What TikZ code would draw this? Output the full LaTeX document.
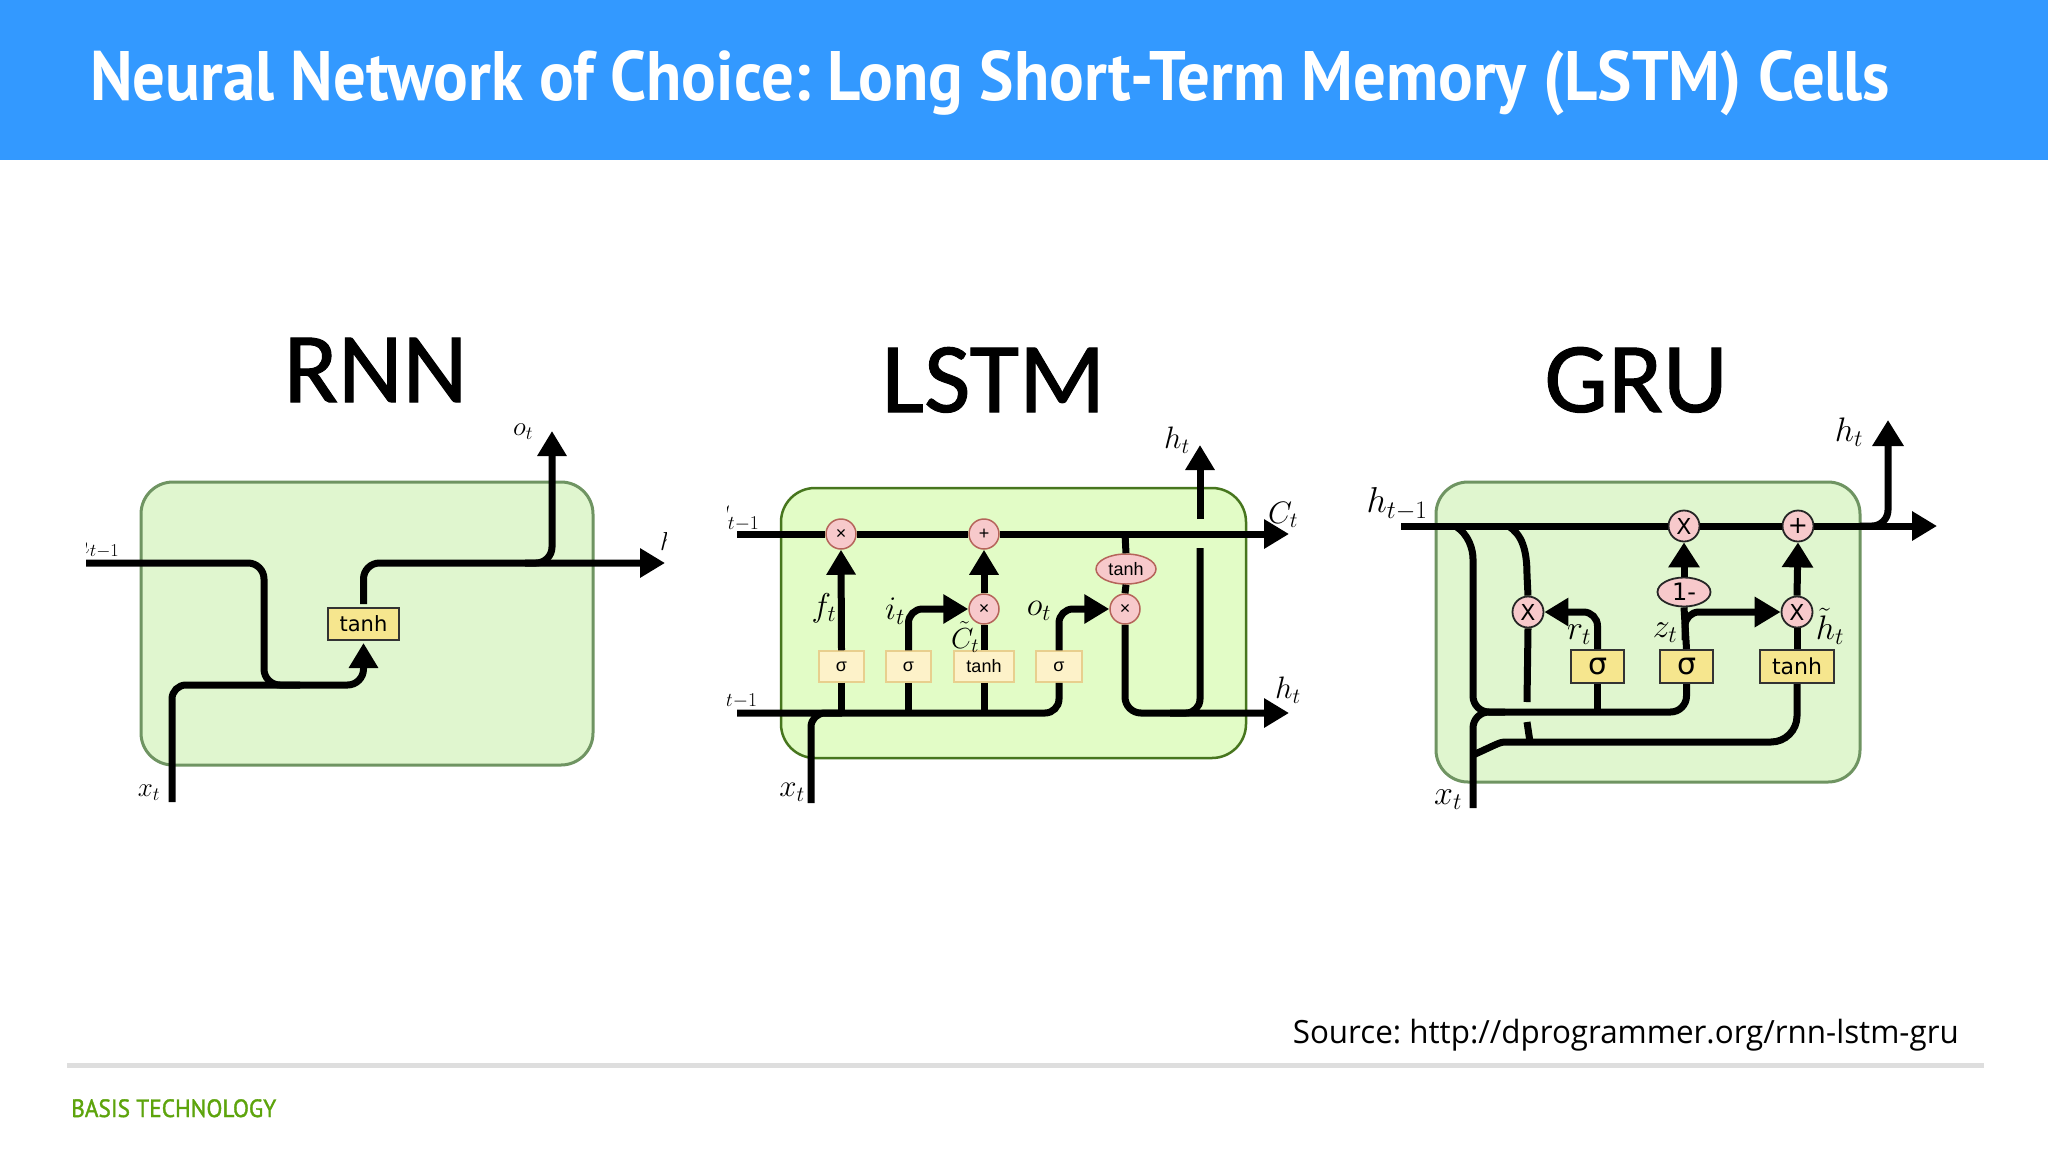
\RequirePackage{fix-cm}
\documentclass[tikz,border=0pt]{standalone}
\usepackage{fontspec}
\usetikzlibrary{arrows.meta,shapes.geometric,calc}
\newfontfamily\carl[FakeBold=1]{Carlito}
\newfontfamily\dejav{DejaVu Sans}
\newfontfamily\libs{Liberation Sans}
\newfontfamily\opens{Open Sans}
\newfontfamily\headf{PT Sans}
\newfontfamily\footf[FakeBold=1.5]{PT Sans}
\newcommand{\fs}[1]{\fontsize{#1}{#1}\selectfont}
\frenchspacing
\definecolor{hdr}{HTML}{3399FF}
\definecolor{wirec}{HTML}{000000}
\definecolor{softfill}{HTML}{E0F6CF}
\definecolor{softedge}{HTML}{6F9462}
\definecolor{lstmfill}{HTML}{E2FCC6}
\definecolor{lstmedge}{HTML}{47761E}
\definecolor{pinkf}{HTML}{F7C9CB}
\definecolor{pinke}{HTML}{B5645A}
\definecolor{yelf}{HTML}{F6E68E}
\definecolor{palef}{HTML}{FDF2C9}
\definecolor{paled}{HTML}{E8CF8E}
\definecolor{footg}{HTML}{5DA40C}
\tikzset{
  wire/.style={draw=wirec,line width=7pt},
  tipa/.style={-{Triangle[length=25pt,width=28pt]}},
  cellsoft/.style={draw=softedge,fill=softfill,line width=3pt,rounded corners=32pt},
  celllstm/.style={draw=lstmedge,fill=lstmfill,line width=2.5pt,rounded corners=34pt},
  title/.style={font=\carl\fs{100},inner sep=0pt,text=black,anchor=base},
  ybox/.style={draw=black!80,fill=yelf,line width=2pt,inner sep=0pt,font=\dejav\fs{21}},
  pbox/.style={draw=paled,fill=palef,line width=1.5pt,inner sep=0pt,minimum height=31pt,font=\libs\fs{18}},
  opa/.style={circle,draw=pinke,fill=pinkf,line width=1.5pt,inner sep=0pt,minimum size=30pt,font=\libs\fs{18}},
  opb/.style={circle,draw=black!85,fill=pinkf,line width=1.8pt,inner sep=0pt,minimum size=31pt,font=\dejav\fs{22}},
  lab/.style={inner sep=0pt,text=black},
}
\begin{document}
\begin{tikzpicture}[x=1pt,y=-1pt]
\useasboundingbox (0,0) rectangle (2048,1152);
\fill[white] (0,160) rectangle (2048,1152);
\fill[hdr] (0,0) rectangle (2048,160);
\node[anchor=base west,inner sep=0pt,text=white] (head) at (90,100) {\resizebox{1800pt}{\height}{\headf\bfseries\fs{70}Neural Network of Choice: Long Short-Term Memory (LSTM) Cells}};

% ---------- RNN
\node[title] (trnn) at (375.5,402) {RNN};
\begin{scope}
\clip (86,320) rectangle (666,815);
\node[cellsoft,minimum width=452pt,minimum height=283pt,inner sep=0pt] (rcell) at (367,623.5) {};
\node[ybox,minimum width=71pt,minimum height=32pt] (rtanh) at (363.5,624) {tanh};
\coordinate (rhin) at (86,563);
\coordinate (rxin) at (172,802);
\coordinate (rhout) at (665,563);
\coordinate (room) at (552,431);
\coordinate (rj) at (264,685);
\coordinate (rm) at (300,685);
\coordinate (rjo) at (525,563);
\draw[wire,tipa,rounded corners=16pt,shorten >=2pt] (rhin) -| (rj) -| (rtanh.south);
\draw[wire,rounded corners=14pt] (rxin) |- (rm);
\draw[wire,tipa,rounded corners=16pt,shorten <=3pt] (rtanh.north) |- (rhout);
\draw[wire,tipa,rounded corners=16pt] (rjo) -| (room);
\node[lab,font=\fs{27}] (rlo) at (523,432) {$o_t$};
\node[lab,font=\fs{27}] (rlx) at (149,793) {$x_t$};
\node[lab,font=\fs{26},anchor=base west] (rlh) at (75,553) {$h_{t-1}$};
\node[lab,font=\fs{26},anchor=base west] (rlh2) at (660,550) {$h_t$};
\end{scope}

% ---------- LSTM
\node[title,xscale=1.01] (tlstm) at (993.5,412) {LSTM};
\begin{scope}
\clip (727,320) rectangle (1320,815);
\node[celllstm,minimum width=465pt,minimum height=270pt,inner sep=0pt] (lcell) at (1013.5,623) {};
\node[opa] (lf) at (841,534) {×};
\node[opa] (lp) at (984,534) {+};
\node[opa] (li) at (984,609) {×};
\node[opa] (lo) at (1125,609) {×};
\node[ellipse,draw=pinke,fill=pinkf,line width=1.5pt,inner sep=0pt,minimum width=60pt,minimum height=30pt,font=\libs\fs{18}] (lte) at (1126,569) {tanh};
\node[pbox,minimum width=45pt] (ls1) at (841.5,666.5) {σ};
\node[pbox,minimum width=45pt] (ls2) at (908.5,666.5) {σ};
\node[pbox,minimum width=60pt] (ltb) at (984,666.5) {tanh};
\node[pbox,minimum width=46pt] (ls3) at (1059,666.5) {σ};
\coordinate (lcin) at (737,534);
\coordinate (lcout) at (1289,534);
\coordinate (lhin) at (737,713);
\coordinate (lhout) at (1289,713);
\coordinate (lxin) at (811,803);
\coordinate (lxj) at (842,713);
\coordinate (lcj) at (1125,534);
\coordinate (lhj) at (1170,713);
\coordinate (lg1) at (1200,548);
\coordinate (lg2) at (1200,519);
\coordinate (lhup) at (1200,445);
\draw[wire] (lcin) -- (lf.west);
\draw[wire] (lf.east) -- (lp.west);
\draw[wire,tipa] (lp.east) -- (lcout);
\draw[wire,rounded corners=14pt] (lhin) -| (ls3.south);
\draw[wire,rounded corners=14pt] (lxin) |- (lxj);
\draw[wire] (ls1.south) -- (ls1.south |- lhin);
\draw[wire] (ls2.south) -- (ls2.south |- lhin);
\draw[wire] (ltb.south) -- (ltb.south |- lhin);
\draw[wire,tipa] (ls1.north) -- (lf.south);
\draw[wire,tipa,rounded corners=14pt] (ls2.north) |- (li.west);
\draw[wire,tipa,rounded corners=14pt] (ls3.north) |- (lo.west);
\draw[wire] (ltb.north) -- (li.south);
\draw[wire,tipa] (li.north) -- (lp.south);
\draw[wire] (lcj) -- (lte.north);
\draw[wire] (lte.south) -- (lo.north);
\draw[wire,tipa,rounded corners=16pt] (lo.south) |- (lhout);
\draw[wire,rounded corners=14pt] (lhj) -| (lg1);
\draw[wire,tipa] (lg2) -- (lhup);
\node[lab,font=\fs{33}] (llf) at (824,608) {$f_t$};
\node[lab,font=\fs{33}] (lli) at (895,611) {$i_t$};
\node[lab,font=\fs{33}] (llo) at (1039,611) {$o_t$};
\node[lab,font=\fs{29}] (llc) at (965,637) {$\tilde{C}_t$};
\node[lab,font=\fs{31}] (llh) at (1177,440) {$h_t$};
\node[lab,font=\fs{31}] (llct) at (1283,515) {$C_t$};
\node[lab,font=\fs{31}] (llh2) at (1288,690) {$h_t$};
\node[lab,font=\fs{31}] (llx) at (792,792) {$x_t$};
\node[lab,font=\fs{28},anchor=base west] (llc1) at (708,525) {$C_{t-1}$};
\node[lab,font=\fs{28},anchor=base west] (llh1) at (710,702) {$h_{t-1}$};
\end{scope}

% ---------- GRU
\node[title,xscale=1.01] (tgru) at (1636,412) {GRU};
\node[cellsoft,minimum width=424pt,minimum height=300pt,inner sep=0pt] (gcell) at (1648,632) {};
\node[opb] (gx) at (1684,526) {X};
\node[opb,font=\dejav\fs{24}] (gp) at (1798,526) {+};
\node[opb] (gm1) at (1528,612) {X};
\node[opb] (gm2) at (1797,612) {X};
\node[ellipse,draw=black!85,fill=pinkf,line width=1.8pt,inner sep=0pt,minimum width=53pt,minimum height=29pt,font=\dejav\fs{24}] (gone) at (1684,592) {1-};
\node[ybox,minimum width=53pt,minimum height=33pt,font=\dejav\fs{30}] (gs1) at (1597.5,666.5) {σ};
\node[ybox,minimum width=53pt,minimum height=33pt,font=\dejav\fs{30}] (gs2) at (1686.5,666.5) {σ};
\node[ybox,minimum width=74pt,minimum height=33pt,font=\dejav\fs{22}] (gtb) at (1797,666.5) {tanh};
\coordinate (gin) at (1401,526);
\coordinate (gout) at (1937,526);
\coordinate (gb1) at (1455,526);
\coordinate (gb1d) at (1473,575);
\coordinate (gbus) at (1600,712);
\coordinate (gxin) at (1473,808);
\coordinate (gxj) at (1505,712);
\coordinate (gl) at (1473,755);
\coordinate (gk) at (1530,742);
\coordinate (gb2) at (1508,526);
\coordinate (gb2d) at (1527,575);
\coordinate (gga) at (1527,702);
\coordinate (ggb) at (1527,722);
\coordinate (ggc) at (1530,742);
\coordinate (gbr) at (1685,640);
\coordinate (gu) at (1860,526);
\coordinate (gup) at (1888,420);
\draw[wire] (gin) -- (gx.west);
\draw[wire] (gx.east) -- (gp.west);
\draw[wire,tipa] (gp.east) -- (gout);
\draw[wire,rounded corners=16pt] (gb1) .. controls +(14,8) and +(0,-25) .. (gb1d) |- (gbus) -| (gs2.south);
\draw[wire] (gb2) .. controls +(14,8) and +(0,-25) .. (gb2d) -- (gm1.north);
\draw[wire] (gm1.south) -- (gga);
\draw[wire] (ggb) -- (ggc);
\draw[wire,rounded corners=16pt] (gxin) |- (gxj);
\draw[wire,rounded corners=26pt] (gl) .. controls +(20,-9) and +(-30,0) .. (gk) -| (gtb.south);
\draw[wire] (gs1.south) -- (gs1.south |- gbus);
\draw[wire,rounded corners=14pt,-{Triangle[length=24pt,width=27pt]}] (gs1.north) |- (gm1.east);
\draw[wire] (gs2.north) -- (gone.south);
\draw[wire,-{Triangle[length=25pt,width=30pt]}] (gone.north) -- (gx.south);
\draw[wire,rounded corners=14pt,-{Triangle[length=26pt,width=29pt]}] (gbr) |- (gm2.west);
\draw[wire] (gtb.north) -- (gm2.south);
\draw[wire,-{Triangle[length=25pt,width=30pt]}] (gm2.north) -- (gp.south);
\draw[wire,rounded corners=16pt,-{Triangle[length=26pt,width=30pt]}] (gu) -| (gup);
\node[lab,font=\fs{36}] (glh) at (1397,504) {$h_{t-1}$};
\node[lab,font=\fs{34}] (glh2) at (1849,432) {$h_t$};
\node[lab,font=\fs{34}] (glr) at (1579,635) {$r_t$};
\node[lab,font=\fs{34}] (glz) at (1665,633) {$z_t$};
\node[lab,font=\fs{34}] (glt) at (1830,626) {$\tilde{h}_t$};
\node[lab,font=\fs{34}] (glx) at (1448,800) {$x_t$};

% ---------- Footer
\node[anchor=base east,inner sep=0pt,text=black] (src) at (1959,1043) {\resizebox{666pt}{\height}{\opens\fs{32}Source: http://dprogrammer.org/rnn-lstm-gru}};
\fill[black!13] (67,1063) rectangle (1984,1068);
\node[anchor=base west,inner sep=0pt,text=footg] (foot) at (71,1117) {\resizebox{205pt}{\height}{\footf\fs{25}BASIS TECHNOLOGY}};
\end{tikzpicture}
\end{document}
